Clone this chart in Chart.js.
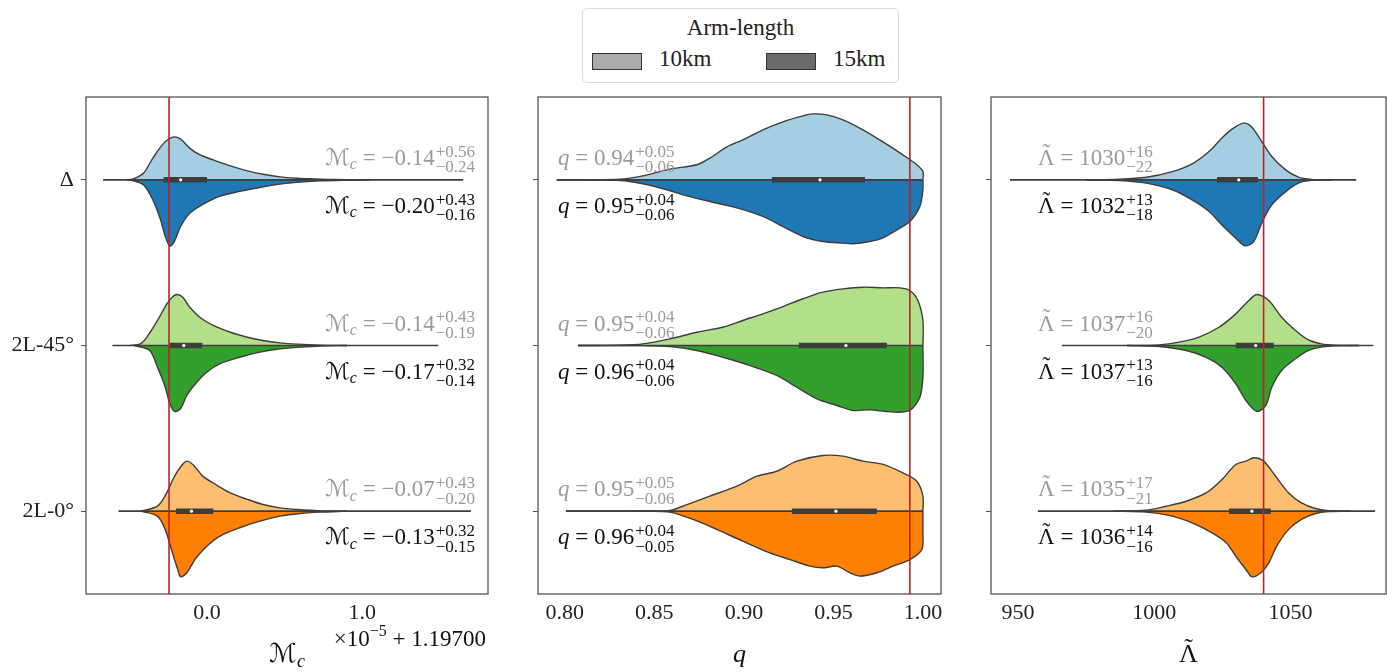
<!DOCTYPE html>
<html lang="en">
<head>
<meta charset="UTF-8">
<title>Arm-length comparison</title>
<style>
  body { margin: 0; background: white; width: 1387px; height: 672px; overflow: hidden; position: relative; font-family: 'Liberation Serif', 'DejaVu Serif', serif; color: #222; }
  canvas { position: absolute; top: 0; }
  #legend { position: absolute; left: 582px; top: 8px; width: 317px; height: 75px; border: 1px solid #d9d9d9; border-radius: 5px; box-sizing: border-box; background: white; z-index: 2; }
  #legend .title { position: absolute; left: 0; right: 0; top: 6px; text-align: center; font-size: 23px; }
  #legend .patch { position: absolute; top: 44px; width: 50px; height: 17px; border: 1px solid #333; box-sizing: border-box; }
  #legend .lab { position: absolute; top: 37px; font-size: 23px; }
</style>
<script src="https://cdn.jsdelivr.net/npm/chart.js"></script>
</head>
<body>
<div id="legend">
  <div class="title">Arm-length</div>
  <div class="patch" style="left:9px;background:#aaaaaa"></div><div class="lab" style="left:76px">10km</div>
  <div class="patch" style="left:183px;background:#6b6b6b"></div><div class="lab" style="left:250px">15km</div>
</div>
<canvas id="mcChart" width="500" height="672" style="left:0px"></canvas>
<canvas id="qChart" width="450" height="672" style="left:500px"></canvas>
<canvas id="lamChart" width="440" height="672" style="left:950px"></canvas>
<script>
// rows (top to bottom) and colours
const rows = ['Δ', '2L-45°', '2L-0°'];
const lightColors = ['#a6cee3', '#b2df8a', '#fdbf6f'];
const darkColors = ['#1f78b4', '#33a02c', '#ff7f00'];

// ---- chirp mass (offset from 1.19700, units 1e-5) ----
// violin halves: [value, half-width in row units]
const mcDelta10 = [[-0.52,0],[-0.48,0.004],[-0.41,0.04],[-0.35,0.13],[-0.28,0.22],[-0.22,0.258],[-0.17,0.246],[-0.11,0.19],[-0.045,0.15],[0.04,0.12],[0.15,0.084],[0.26,0.054],[0.36,0.034],[0.47,0.018],[0.58,0.010],[0.68,0.006],[0.81,0.002],[1.0,0]];
const mcDelta15 = [[-0.52,0],[-0.48,0.004],[-0.41,0.03],[-0.35,0.12],[-0.30,0.24],[-0.27,0.34],[-0.24,0.40],[-0.21,0.37],[-0.17,0.28],[-0.11,0.20],[-0.03,0.15],[0.08,0.10],[0.21,0.07],[0.34,0.046],[0.47,0.026],[0.60,0.014],[0.73,0.006],[0.90,0.002],[1.05,0]];
const mc45_10 = [[-0.50,0],[-0.43,0.01],[-0.39,0.048],[-0.32,0.15],[-0.26,0.25],[-0.22,0.296],[-0.19,0.308],[-0.155,0.29],[-0.11,0.229],[-0.045,0.169],[0.04,0.121],[0.15,0.08],[0.26,0.05],[0.36,0.03],[0.47,0.016],[0.58,0.008],[0.73,0.002],[0.9,0]];
const mc45_15 = [[-0.47,0],[-0.37,0.03],[-0.32,0.13],[-0.27,0.25],[-0.24,0.35],[-0.21,0.398],[-0.17,0.38],[-0.13,0.30],[-0.065,0.22],[0,0.16],[0.084,0.11],[0.21,0.071],[0.34,0.04],[0.47,0.02],[0.6,0.01],[0.73,0.003],[0.9,0]];
const mc0_10 = [[-0.43,0],[-0.32,0.03],[-0.26,0.11],[-0.21,0.21],[-0.16,0.28],[-0.13,0.302],[-0.09,0.28],[-0.026,0.21],[0.04,0.17],[0.15,0.11],[0.26,0.071],[0.36,0.04],[0.47,0.02],[0.58,0.01],[0.73,0.002],[0.9,0]];
const mc0_15 = [[-0.43,0],[-0.32,0.03],[-0.27,0.11],[-0.23,0.23],[-0.19,0.35],[-0.17,0.396],[-0.13,0.372],[-0.077,0.29],[0,0.21],[0.084,0.15],[0.21,0.10],[0.34,0.06],[0.47,0.03],[0.6,0.014],[0.73,0.006],[0.9,0]];
const mcRange = [[-0.67, 1.65], [-0.61, 1.49], [-0.57, 1.70]];
const mcBox = [[-0.28, 0.0], [-0.24, -0.03], [-0.20, 0.04]];
const mcMedian = [-0.17, -0.15, -0.10];
const mcTruth = -0.245;
const mcTicks = [0, 1];
const mcLabels10 = [['−0.14', '+0.56', '−0.24'], ['−0.14', '+0.43', '−0.19'], ['−0.07', '+0.43', '−0.20']];
const mcLabels15 = [['−0.20', '+0.43', '−0.16'], ['−0.17', '+0.32', '−0.14'], ['−0.13', '+0.32', '−0.15']];

// ---- mass ratio q ----
const qDelta10 = [[0.7955,0],[0.8307,0.004],[0.8436,0.024],[0.8587,0.065],[0.8737,0.091],[0.881,0.131],[0.8905,0.199],[0.8994,0.241],[0.9106,0.302],[0.9218,0.35],[0.933,0.386],[0.9385,0.398],[0.9464,0.392],[0.9553,0.362],[0.9665,0.302],[0.9777,0.229],[0.9888,0.151],[0.9966,0.091],[1.0,0.05],[1.0,0]];
const qDelta15 = [[0.7955,0],[0.8307,0.004],[0.8436,0.024],[0.857,0.06],[0.8682,0.097],[0.881,0.131],[0.8961,0.169],[0.9106,0.221],[0.9218,0.282],[0.933,0.342],[0.9441,0.372],[0.9553,0.382],[0.9609,0.386],[0.9704,0.372],[0.9777,0.35],[0.9855,0.302],[0.9927,0.252],[0.9983,0.161],[1.0,0.06],[1.0,0]];
const q45_10 = [[0.8073,0],[0.83,0.002],[0.8436,0.01],[0.8587,0.04],[0.8737,0.08],[0.8883,0.11],[0.8994,0.151],[0.9106,0.191],[0.9218,0.235],[0.933,0.282],[0.9441,0.322],[0.9553,0.342],[0.9665,0.352],[0.9777,0.348],[0.9872,0.348],[0.9927,0.332],[0.9972,0.272],[1.0,0.151],[1.0,0]];
const q45_15 = [[0.8073,0],[0.845,0.001],[0.8587,0.006],[0.8737,0.03],[0.8883,0.071],[0.9034,0.121],[0.9184,0.181],[0.9296,0.252],[0.9408,0.322],[0.952,0.362],[0.9609,0.392],[0.9704,0.388],[0.9832,0.402],[0.9927,0.392],[0.9983,0.312],[1.0,0.191],[1.0,0]];
const q0_10 = [[0.8006,0],[0.845,0.001],[0.8587,0.004],[0.8682,0.04],[0.881,0.091],[0.8961,0.151],[0.9073,0.211],[0.9184,0.241],[0.9296,0.302],[0.9441,0.336],[0.9553,0.332],[0.9665,0.302],[0.9777,0.282],[0.9888,0.231],[0.9966,0.181],[1.0,0.091],[1.0,0]];
const q0_15 = [[0.8006,0],[0.845,0.001],[0.8587,0.006],[0.8715,0.05],[0.8849,0.11],[0.8994,0.181],[0.9145,0.252],[0.9257,0.292],[0.9369,0.332],[0.9441,0.342],[0.952,0.332],[0.9592,0.372],[0.9648,0.392],[0.9743,0.372],[0.9832,0.332],[0.9927,0.292],[0.9994,0.231],[1.0,0.11],[1.0,0]];
const qRange = [[0.7955, 1.0], [0.8073, 1.0], [0.8006, 1.0]];
const qBox = [[0.9156, 0.9676], [0.9307, 0.9799], [0.9268, 0.9743]];
const qMedian = [0.9425, 0.957, 0.9514];
const qTruth = 0.9927;
const qTicks = [0.80, 0.85, 0.90, 0.95, 1.00];
const qLabels10 = [['0.94', '+0.05', '−0.06'], ['0.95', '+0.04', '−0.06'], ['0.95', '+0.05', '−0.06']];
const qLabels15 = [['0.95', '+0.04', '−0.06'], ['0.96', '+0.04', '−0.06'], ['0.96', '+0.04', '−0.05']];

// ---- tidal deformability ----
const lamDelta10 = [[975,0],[987.2,0.004],[997.1,0.016],[1006.6,0.05],[1013.9,0.097],[1020.1,0.171],[1024.8,0.252],[1028.5,0.306],[1032.8,0.342],[1035.8,0.318],[1039.4,0.231],[1043.1,0.141],[1048.2,0.06],[1052.9,0.016],[1057.7,0.003],[1065,0]];
const lamDelta15 = [[975,0],[987.2,0.004],[997.1,0.02],[1006.6,0.06],[1013.9,0.121],[1020.1,0.191],[1024.8,0.272],[1029.9,0.352],[1033.2,0.398],[1036.5,0.372],[1039.4,0.261],[1043.1,0.151],[1048.2,0.071],[1052.9,0.02],[1057.7,0.003],[1065,0]];
const lam45_10 = [[990,0],[1001.8,0.004],[1009.1,0.02],[1016.4,0.05],[1023.7,0.11],[1029.9,0.191],[1034.7,0.272],[1037.6,0.308],[1042,0.272],[1046.7,0.171],[1051.8,0.091],[1056.6,0.034],[1061.3,0.01],[1066.4,0.002],[1075,0]];
const lam45_15 = [[990,0],[1001.8,0.006],[1011.7,0.03],[1019,0.071],[1024.8,0.131],[1029.9,0.231],[1033.6,0.332],[1037.6,0.398],[1040.9,0.362],[1043.1,0.252],[1046.7,0.151],[1051.8,0.08],[1056.6,0.03],[1061.3,0.01],[1066.4,0.002],[1075,0]];
const lam0_10 = [[985,0],[997.1,0.006],[1004.4,0.03],[1011.7,0.06],[1019,0.11],[1024.8,0.191],[1029.9,0.282],[1033.6,0.302],[1036.5,0.322],[1040.1,0.302],[1044.5,0.211],[1049.3,0.11],[1054,0.05],[1059.1,0.016],[1063.9,0.003],[1072,0]];
const lam0_15 = [[985,0],[997.1,0.006],[1006.6,0.03],[1013.9,0.071],[1021.2,0.131],[1026.4,0.191],[1029.9,0.272],[1033.6,0.352],[1035.8,0.396],[1039.1,0.372],[1042,0.312],[1044.9,0.211],[1049.3,0.11],[1054,0.05],[1059.1,0.014],[1063.9,0.002],[1072,0]];
const lamRange = [[947.1, 1074.1], [966.1, 1080.3], [957.3, 1081.0]];
const lamBox = [[1023, 1038], [1029.9, 1043.8], [1027.4, 1042.7]];
const lamMedian = [1031, 1037.2, 1035.8];
const lamTruth = 1040.1;
const lamTicks = [950, 1000, 1050];
const lamLabels10 = [['1030', '+16', '−22'], ['1037', '+16', '−20'], ['1035', '+17', '−21']];
const lamLabels15 = [['1032', '+13', '−18'], ['1037', '+13', '−16'], ['1036', '+14', '−16']];

const FONT = "'Liberation Serif', 'DejaVu Serif', 'DejaVu Sans', serif";
const EDGE = '#3d3d3d';

function setFont(ctx, size, italic) {
    ctx.font = (italic ? 'italic ' : '') + size + 'px ' + FONT;
}

// symbol pieces: [text, size, italic, dy]
function symbolPieces(sym, size) {
    if (sym === 'M') return [['ℳ', size, false, 0], ['c', Math.round(size * 0.7), true, size * 0.2]];
    if (sym === 'q') return [['q', size, true, 0]];
    return [['Λ', size, false, 0]];
}

function drawPieces(ctx, pieces, x, y) {
    let cx = x;
    pieces.forEach(p => {
        setFont(ctx, p[1], p[2]);
        ctx.fillText(p[0], cx, y + p[3]);
        if (p[0] === 'Λ') {
            const w = ctx.measureText('Λ').width;
            ctx.textAlign = 'center';
            ctx.fillText('˜', cx + w / 2, y - p[1] * 0.22);
            ctx.textAlign = 'left';
        }
        cx += ctx.measureText(p[0]).width;
    });
    return cx;
}

function piecesWidth(ctx, pieces) {
    let w = 0;
    pieces.forEach(p => { setFont(ctx, p[1], p[2]); w += ctx.measureText(p[0]).width; });
    return w;
}

function drawEq(ctx, sym, val, x, y, align, color, size) {
    const small = Math.round(size * 0.72);
    const pieces = symbolPieces(sym, size).concat([[' = ' + val[0], size, false, 0]]);
    const w = piecesWidth(ctx, pieces);
    setFont(ctx, small, false);
    const sw = Math.max(ctx.measureText(val[1]).width, ctx.measureText(val[2]).width);
    const start = align === 'right' ? x - w - 1 - sw : x;
    ctx.fillStyle = color;
    ctx.textAlign = 'left';
    ctx.textBaseline = 'alphabetic';
    const end = drawPieces(ctx, pieces, start, y);
    setFont(ctx, small, false);
    ctx.fillText(val[1], end + 1, y - size * 0.36);
    ctx.fillText(val[2], end + 1, y + size * 0.32);
}

function makeChart(id, p) {
    const datasets = [];
    datasets.push({ data: [{ x: p.truth, y: -0.5 }, { x: p.truth, y: 2.5 }], borderColor: '#b9232a', borderWidth: 1.6, pointRadius: 0, order: 0 });
    for (let i = 0; i < 3; i++) {
        datasets.push({ data: [{ x: p.median[i], y: i }], showLine: false, pointRadius: 1.6, pointBackgroundColor: 'white', pointBorderWidth: 0, order: 1 });
        datasets.push({ data: [{ x: p.box[i][0], y: i }, { x: p.box[i][1], y: i }], borderColor: EDGE, borderWidth: 5.5, borderCapStyle: 'butt', pointRadius: 0, order: 2 });
        datasets.push({ data: [{ x: p.range[i][0], y: i }, { x: p.range[i][1], y: i }], borderColor: EDGE, borderWidth: 1.6, pointRadius: 0, order: 3 });
        datasets.push({ data: p.upper[i].map(d => ({ x: d[0], y: i - d[1] })), fill: { value: i }, backgroundColor: lightColors[i], borderColor: EDGE, borderWidth: 1.4, pointRadius: 0, tension: 0.3, order: 4 });
        datasets.push({ data: p.lower[i].map(d => ({ x: d[0], y: i + d[1] })), fill: { value: i }, backgroundColor: darkColors[i], borderColor: EDGE, borderWidth: 1.4, pointRadius: 0, tension: 0.3, order: 4 });
    }

    const textPlugin = {
        id: 'mathText',
        afterDraw(chart) {
            const ctx = chart.ctx;
            const a = chart.chartArea;
            const ys = chart.scales.y;
            ctx.save();
            // frame
            ctx.strokeStyle = '#555';
            ctx.lineWidth = 1.3;
            ctx.strokeRect(a.left, a.top, a.right - a.left, a.bottom - a.top);
            // annotations
            for (let i = 0; i < 3; i++) {
                const yy = ys.getPixelForValue(i);
                const x = p.align === 'right' ? a.right - p.textInset : a.left + p.textInset;
                drawEq(ctx, p.sym, p.labels10[i], x, yy - 15, p.align, '#9a9a9a', 23);
                drawEq(ctx, p.sym, p.labels15[i], x, yy + 33, p.align, '#111', 23);
            }
            // axis title
            const title = symbolPieces(p.sym, 26);
            const tw = piecesWidth(ctx, title);
            ctx.fillStyle = '#111';
            ctx.textAlign = 'left';
            drawPieces(ctx, title, (a.left + a.right) / 2 - tw / 2, 662);
            // offset text
            if (p.offset) {
                const parts = [['×10', 23, false, 0], ['−5', 16, false, -10], [' + 1.19700', 23, false, 0]];
                const ow = piecesWidth(ctx, parts);
                drawPieces(ctx, parts, a.right - 2 - ow, 646);
            }
            ctx.restore();
        }
    };

    return new Chart(document.getElementById(id), {
        type: 'line',
        data: { datasets: datasets },
        options: {
            responsive: false,
            animation: false,
            events: [],
            layout: { padding: { top: 97, right: p.padRight, left: 0, bottom: 0 } },
            plugins: { legend: { display: false }, tooltip: { enabled: false } },
            scales: {
                x: {
                    type: 'linear', min: p.min, max: p.max,
                    afterBuildTicks: s => { s.ticks = p.ticks.map(v => ({ value: v })); },
                    afterFit: s => { s.height = 78; },
                    ticks: { callback: p.fmt, font: { family: FONT, size: 22 }, color: '#222', padding: -2, maxRotation: 0, autoSkip: false },
                    grid: { display: false },
                    border: { display: false }
                },
                y: {
                    type: 'linear', min: -0.5, max: 2.5, reverse: true,
                    afterBuildTicks: s => { s.ticks = [0, 1, 2].map(v => ({ value: v })); },
                    afterFit: s => { s.width = p.yWidth; },
                    ticks: { callback: v => p.showRows ? rows[v] : '', font: { family: FONT, size: 22 }, color: '#222', padding: 7 },
                    grid: { drawOnChartArea: false, drawTicks: true, tickLength: 5, color: '#555' },
                    border: { display: false }
                }
            }
        },
        plugins: [textPlugin]
    });
}

makeChart('mcChart', {
    upper: [mcDelta10, mc45_10, mc0_10], lower: [mcDelta15, mc45_15, mc0_15],
    range: mcRange, box: mcBox, median: mcMedian, truth: mcTruth,
    ticks: mcTicks, min: -0.78, max: 1.81, fmt: v => v.toFixed(1),
    labels10: mcLabels10, labels15: mcLabels15, sym: 'M', align: 'right', textInset: 13,
    yWidth: 86, padRight: 12, showRows: true, offset: true
});
makeChart('qChart', {
    upper: [qDelta10, q45_10, q0_10], lower: [qDelta15, q45_15, q0_15],
    range: qRange, box: qBox, median: qMedian, truth: qTruth,
    ticks: qTicks, min: 0.785, max: 1.0101, fmt: v => v.toFixed(2),
    labels10: qLabels10, labels15: qLabels15, sym: 'q', align: 'left', textInset: 20,
    yWidth: 38, padRight: 9, showRows: false, offset: false
});
makeChart('lamChart', {
    upper: [lamDelta10, lam45_10, lam0_10], lower: [lamDelta15, lam45_15, lam0_15],
    range: lamRange, box: lamBox, median: lamMedian, truth: lamTruth,
    ticks: lamTicks, min: 940.1, max: 1085.0, fmt: v => String(v),
    labels10: lamLabels10, labels15: lamLabels15, sym: 'L', align: 'left', textInset: 47,
    yWidth: 41, padRight: 2, showRows: false, offset: false
});
</script>
</body>
</html>
